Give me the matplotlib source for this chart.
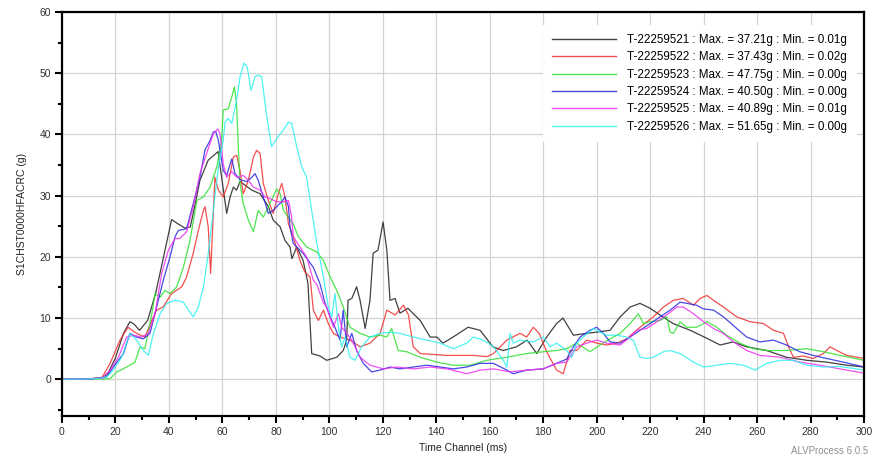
import matplotlib
matplotlib.use("Agg")
import matplotlib.pyplot as plt
from matplotlib.ticker import MultipleLocator

plt.rcParams['font.family'] = ['Liberation Sans', 'DejaVu Sans']

labels = [
    "T-22259521 : Max. = 37.21g : Min. = 0.01g",
    "T-22259522 : Max. = 37.43g : Min. = 0.02g",
    "T-22259523 : Max. = 47.75g : Min. = 0.00g",
    "T-22259524 : Max. = 40.50g : Min. = 0.00g",
    "T-22259525 : Max. = 40.89g : Min. = 0.01g",
    "T-22259526 : Max. = 51.65g : Min. = 0.00g",
]
colors = ["#202020", "#f03030", "#30e030", "#2828e0", "#f030f0", "#30f0f0"]

t1 = [0, 10, 15, 17, 20, 23, 25.4, 27, 29, 32, 35, 38, 41, 43, 46, 48, 50, 51.6, 54.7, 58.4, 59.7, 61.6, 62.9, 64.1, 65.3, 66.6, 68.5, 71, 74.1, 77.2, 79, 81.6, 83.4, 85.3, 86, 87.8, 90.2, 92, 93.4, 96.5, 99, 102.8, 105.2, 106.5, 107, 108.4, 110.2, 111.5, 113.4, 115.2, 116.4, 118.2, 120.1, 121.5, 122.7, 124.6, 126.4, 129.4, 134, 137.7, 140.2, 142.5, 146.3, 151.9, 156.4, 161.2, 165, 170, 174, 177.6, 181.3, 185, 187.4, 191.3, 196.3, 200, 205, 208.8, 212.5, 216.2, 220, 223.7, 228.6, 235, 241.2, 246.2, 251, 256.1, 263.6, 271, 278.6, 286, 293.5, 300]
y1 = [0, 0.05, 0.3, 0.8, 3.5, 7.5, 9.4, 9, 8, 9.6, 14, 20, 26.1, 25.5, 24.7, 24.9, 29, 32.5, 35.8, 37.2, 33, 27.1, 29.8, 31.4, 30.9, 32.3, 31.7, 30.9, 30.3, 28.2, 26, 24.9, 22.7, 21.6, 19.7, 21.6, 19.4, 15.7, 4.2, 3.8, 3.1, 3.6, 4.7, 6.4, 12.9, 13.2, 15.1, 12.9, 8.3, 12.9, 20.6, 21.1, 25.7, 21.1, 12.9, 13.2, 10.8, 11.6, 9.6, 6.9, 6.9, 5.9, 6.9, 8.5, 8.0, 5.3, 4.7, 5.3, 6.4, 4.2, 6.9, 9.1, 10, 7.2, 7.5, 7.7, 8, 10.2, 11.8, 12.4, 11.6, 10.5, 9.1, 8, 6.7, 5.6, 6.1, 5.3, 4.7, 3.6, 3.1, 2.8, 2.3, 2.0]

t2 = [0, 10, 15, 18, 21.7, 24.7, 27.9, 31, 33.6, 35.4, 37.8, 41, 44.8, 46.6, 49.1, 51, 52.9, 53.5, 54.7, 55.6, 57.2, 58.5, 60.3, 62.2, 64.1, 65.3, 66.6, 67.8, 69.7, 71.6, 72.8, 74.1, 75.3, 77.2, 79, 80.9, 82.2, 83.4, 84.7, 86.5, 89, 90.9, 92.8, 94, 95.9, 97.8, 99.6, 101.5, 104, 107.7, 111.5, 115.2, 119, 121.5, 124.6, 127.7, 129.6, 131.4, 134, 143.9, 153.9, 159, 161.4, 166.4, 171.3, 173.8, 176.3, 178.5, 181.3, 185, 187.5, 190, 192.5, 196.3, 200, 203.7, 207.5, 211.2, 216.2, 221.2, 225, 228.7, 232.4, 236.2, 238.7, 241.2, 243.7, 247.4, 252.4, 257.4, 262.4, 266.1, 269.9, 271.8, 273.6, 277.3, 281, 284.8, 287.3, 289.8, 293.5, 300]
y2 = [0, 0.05, 0.3, 2.6, 6.4, 8.5, 7.5, 6.9, 9.6, 11.3, 11.8, 14, 15.1, 16.7, 20.6, 24.3, 27.6, 28.2, 24.9, 17.3, 33, 30.9, 29.8, 32, 36.3, 36.6, 34.1, 30.3, 32.5, 36.3, 37.4, 36.9, 32, 29.2, 27.1, 30.3, 32, 29.8, 25.4, 23.3, 19.4, 17.5, 16.7, 11.3, 9.6, 11.3, 9.1, 7.5, 6.9, 6.4, 5.3, 5.9, 7.5, 11.3, 10.5, 12.1, 10.5, 5.3, 4.2, 3.9, 3.9, 3.7, 4.2, 6.4, 7.5, 6.9, 8.5, 7.5, 4.5, 1.5, 0.9, 4.7, 4.7, 6.4, 5.9, 5.6, 5.9, 6.6, 8.5, 10.2, 11.8, 12.9, 13.2, 12.1, 13.2, 13.7, 12.9, 11.8, 10.2, 9.4, 9.1, 8, 7.5, 5.3, 3.6, 3.8, 3.4, 4.2, 5.3, 4.7, 3.9, 3.4]

t3 = [0, 15, 18, 20.5, 24.2, 27.3, 29.2, 31, 33.6, 34.8, 36.7, 38.5, 40.4, 42.9, 45.4, 47.9, 50.4, 52.9, 55.4, 57.9, 59.7, 60.3, 62.2, 63.5, 64.5, 65.3, 66, 66.6, 67.8, 69.7, 71.6, 73.4, 75.3, 77.8, 80.3, 81.6, 82.8, 84.7, 86.5, 88.4, 91.5, 95.3, 97.8, 100.3, 102.8, 105.2, 107.7, 111.5, 115.2, 119, 121.5, 123.3, 124.6, 125.8, 128.9, 134, 140.2, 146.4, 152.6, 158.9, 166.4, 173.8, 180, 185, 188.8, 192.5, 197.5, 201.3, 205, 208.8, 212.5, 215.6, 217.5, 220, 223.7, 226.2, 227.5, 228.7, 231.2, 233.7, 237.4, 241.2, 244.9, 248.6, 253.6, 258.6, 263.6, 271, 278.6, 284.8, 291, 300]
y3 = [0, 0.05, 0.1, 1.2, 2, 2.8, 5.3, 5, 10.7, 14, 13.4, 14.5, 14, 15.1, 18.3, 22.7, 29.2, 29.8, 31.4, 34.7, 39, 44, 44.2, 46.1, 47.75, 45, 37.4, 32, 28.7, 26, 24.1, 27.6, 26.5, 28.7, 31.1, 30.3, 27.6, 26.5, 25.4, 23.3, 21.6, 20.8, 19.4, 16.7, 14.5, 11.8, 8.5, 7.5, 6.9, 7.2, 6.9, 8.3, 6.4, 4.7, 4.5, 3.6, 2.8, 2.3, 2.3, 3.1, 3.6, 4.2, 4.5, 4.7, 5, 5.9, 4.5, 5.6, 6.6, 7.5, 9.1, 10.7, 9.1, 9.4, 9.6, 10.2, 7.7, 7.5, 9.4, 8.5, 8.5, 9.4, 8.5, 7.2, 5.9, 5, 4.7, 4.7, 5, 4.5, 3.9, 3.1]

t4 = [0, 10, 15, 16.7, 19.2, 23, 25.4, 27.9, 30.4, 32.9, 35.4, 37.9, 40.4, 42.3, 43.5, 46.6, 49.1, 51.6, 53.5, 55.4, 56.6, 57.5, 58.5, 59.1, 60.3, 61.6, 63.5, 64.7, 66.6, 69.1, 71, 72.2, 73.4, 75.3, 77.2, 79, 80.3, 82.2, 83.4, 84.7, 85.3, 86.5, 90.3, 94, 96.5, 98.4, 100.3, 102.1, 104, 105.2, 106.5, 108.4, 110.2, 112.7, 115.8, 119, 122.7, 126.4, 131.4, 136.5, 141.4, 146.4, 151.4, 156.4, 161.4, 166.4, 168.8, 173.8, 180, 185, 188.8, 191.3, 193.8, 197.5, 200, 202.5, 205, 208.8, 212.5, 216.2, 220, 223.7, 227.5, 231.2, 233.7, 237.4, 239.9, 243.7, 247.4, 252.4, 256.1, 261.1, 266.1, 271, 276, 281, 286, 292.3, 300]
y4 = [0, 0.05, 0.2, 0.4, 2, 4.2, 7.5, 6.9, 6.6, 7.5, 11.8, 16.2, 20, 23.3, 24.3, 24.6, 28.7, 33, 37.5, 39, 40.4, 40.5, 39, 37.4, 34.1, 33.3, 36, 33.6, 32.6, 32.3, 33, 33.6, 32.5, 29.8, 27.1, 27.6, 28.2, 29, 29.8, 28.2, 24.9, 22.2, 20.5, 18.3, 15.6, 12.4, 10.2, 8.5, 6.4, 11.3, 5.3, 7.5, 4.7, 2.6, 1.2, 1.5, 2, 1.7, 2, 2.3, 2, 1.7, 2, 2.6, 2.6, 1.5, 0.9, 1.5, 1.7, 2.6, 3.3, 5.3, 6.9, 8, 8.5, 7.5, 6.1, 5.9, 6.9, 8, 9.1, 10.2, 11.3, 12.6, 12.4, 12.1, 11.5, 11.3, 10.2, 8.3, 6.9, 6.1, 6.4, 5.6, 4.5, 3.9, 3.4, 2.8, 2.0]

t5 = [0, 10, 15, 18, 21.1, 24.2, 26.7, 29.8, 32.3, 34.8, 37.3, 39.8, 42.3, 44.1, 46.6, 49.1, 51.6, 54.1, 56.6, 58.3, 59.1, 60.3, 61.6, 63.5, 65.4, 67.8, 69.7, 71.6, 74.1, 75.9, 77.8, 80.3, 82.8, 84.7, 85.9, 86.5, 89, 91.5, 94, 95.3, 97.8, 99, 101.5, 103.4, 104.6, 106.5, 108.4, 111.5, 115.2, 120.2, 125.2, 131.4, 137.7, 143.9, 148.9, 151.4, 156.4, 161.4, 167.6, 173.8, 180, 185, 188.8, 192.5, 196.3, 200, 203.7, 208.8, 212.5, 215, 218.7, 222.5, 226.2, 230, 232.4, 236.2, 240, 243.7, 247.4, 251.2, 256.1, 261.1, 268.6, 276, 283.5, 291, 300]
y5 = [0, 0.05, 0.2, 1.5, 3.6, 6.9, 7.2, 6.9, 7.5, 10.7, 17.3, 21.1, 23, 23, 24.1, 28.2, 33.6, 36.9, 40.1, 40.9, 40.1, 35.2, 33, 33.9, 33, 33.3, 32.5, 31.4, 30.9, 29.8, 29.5, 29, 29, 29.2, 26.5, 23.3, 21.6, 20, 16.2, 15.5, 12.5, 11.8, 8.5, 10.7, 8.5, 7.5, 6.4, 3.6, 2.3, 1.7, 2, 1.7, 2, 1.7, 1.2, 0.9, 1.5, 1.7, 1.2, 1.5, 1.7, 2.6, 2.8, 5.3, 5.9, 6.4, 5.9, 5.6, 6.9, 8, 8.3, 9.4, 10.5, 11.8, 11.8, 10.7, 9.4, 8.3, 7.5, 6.1, 4.7, 3.9, 3.6, 2.8, 2.3, 1.7, 1.0]

t6 = [0, 10, 15, 16.7, 19.2, 22.3, 25.4, 27.9, 30.4, 32.3, 34.2, 36.7, 39.2, 42.3, 45.4, 47.3, 49.1, 51, 52.9, 54.7, 56.6, 58.5, 60.3, 61, 62.2, 63.5, 65.3, 66.6, 68.1, 69.3, 70.7, 72.2, 73.4, 74.7, 76.6, 78.4, 80.3, 82.8, 84.7, 85.9, 87.8, 89.7, 91.5, 93, 95.3, 97.8, 99.6, 100.9, 102.1, 103.4, 104.6, 105.9, 107.7, 109.6, 112.1, 115.2, 119, 122.7, 126.4, 131.4, 136.4, 141.4, 146.4, 151.4, 153.9, 157.6, 161.4, 165.1, 166.4, 167.6, 168.8, 171.3, 176.3, 180, 182.6, 185, 188.8, 190.7, 192.5, 195, 198.8, 201.3, 203.7, 207.5, 211.2, 213.7, 216.2, 218.7, 221.2, 225, 227.5, 231.2, 236.2, 240, 244.9, 249.9, 254.9, 259.3, 263.6, 268.6, 273.6, 278.6, 284.8, 291, 300]
y6 = [0, 0.05, 0.2, 0.4, 1.5, 3.6, 7.5, 6.4, 4.7, 3.9, 7.5, 10.7, 12.4, 12.9, 12.6, 11.3, 10.2, 11.8, 15.1, 20.5, 27.6, 34.7, 39, 42, 42.6, 41.8, 45.6, 49.4, 51.65, 51, 47.2, 49.4, 49.7, 49.4, 42.9, 38, 39.3, 40.7, 42, 41.8, 38, 34.7, 33, 28.7, 22.2, 16.7, 11.8, 10.2, 14, 8.5, 5.3, 6.9, 3.6, 3.1, 5.3, 6.9, 7.5, 7.7, 7.5, 6.9, 6.4, 5.9, 5, 5.9, 6.9, 6.4, 5.3, 3.1, 2, 7.5, 5.9, 6.4, 6.1, 6.9, 5.3, 5.9, 4.7, 3.6, 5.9, 6.9, 8.3, 7.7, 7.2, 7.2, 6.9, 6.4, 3.6, 3.4, 3.6, 4.5, 4.7, 4.2, 2.8, 2, 2.3, 2.6, 2.3, 1.5, 2.6, 3.1, 3.1, 2.3, 2, 2.1, 1.5]

times = [t1, t2, t3, t4, t5, t6]
values = [y1, y2, y3, y4, y5, y6]

fig = plt.figure(figsize=(8.74, 4.58), dpi=100)
ax = fig.add_axes([62/874, 1-416/458, (864-62)/874, (416-12)/458])

for t, v, c, lab in zip(times, values, colors, labels):
    ax.plot(t, v, color=c, lw=0.9, label=lab, alpha=0.85)

ax.set_xlim(0, 300)
ax.set_ylim(-6, 60)
ax.xaxis.set_major_locator(MultipleLocator(20))
ax.xaxis.set_minor_locator(MultipleLocator(10))
ax.yaxis.set_major_locator(MultipleLocator(10))
ax.yaxis.set_minor_locator(MultipleLocator(5))
ax.set_yticks([0, 10, 20, 30, 40, 50, 60])
ax.grid(True, which='major', color='#d4d4d4', lw=0.9)
ax.set_axisbelow(True)
for s in ax.spines.values():
    s.set_linewidth(1.6)
    s.set_color('black')
ax.tick_params(which='major', direction='out', length=5, width=1.5, labelsize=7.5, colors='black', labelcolor='#333333', pad=3)
ax.tick_params(which='minor', direction='out', length=3, width=1.5)

ax.set_xlabel("Time Channel (ms)", fontsize=7.5, color='#222222', labelpad=4)
ax.set_ylabel("S1CHST0000HFACRC (g)", fontsize=7.5, color='#222222', labelpad=9)

leg = ax.legend(loc='upper right', bbox_to_anchor=(0.991, 0.969), fontsize=8.4,
                handlelength=5.5, handletextpad=0.95, labelspacing=0.46,
                frameon=True, fancybox=False, borderpad=0.8, borderaxespad=0)
leg.get_frame().set_facecolor('white')
leg.get_frame().set_edgecolor('none')
leg.get_frame().set_alpha(1)
for line in leg.get_lines():
    line.set_linewidth(1.0)

fig.text(868/874, 1-451/458, "ALVProcess 6.0.5", fontsize=7, color='#909090', ha='right', va='center')

fig.savefig("out.png", dpi=100)
